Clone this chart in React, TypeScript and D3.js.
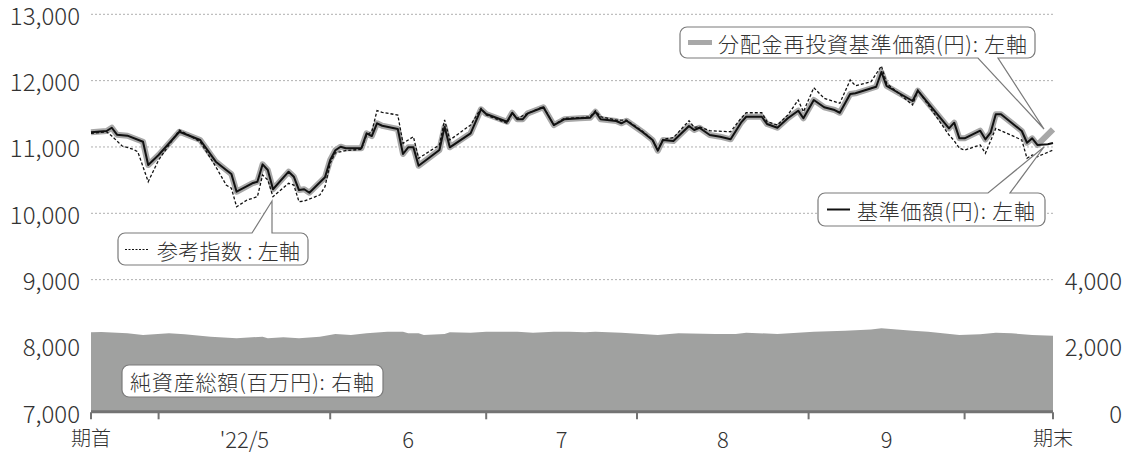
import React from 'react';
import * as d3 from 'd3';

// ---- data (x = business-day position within the period) ----
const monthTickDays = [0, 13, 46, 76, 105, 138, 168, 185];
const xLabels = ['期首', "'22/5", '6', '7', '8', '9', '期末'];
const leftTicks = [7000, 8000, 9000, 10000, 11000, 12000, 13000];
const gridValues = [9000, 10000, 11000, 12000, 13000];
const rightTicks = [0, 2000, 4000];

const navDays = [0, 3, 4, 5, 7, 10, 11, 13, 17, 21, 24, 26, 27, 28, 31, 32, 33, 34, 35, 38, 39, 40, 41, 42, 45, 46, 47, 48, 49, 52, 53, 54, 55, 56, 59, 60, 61, 62, 63, 67, 68, 69, 73, 75, 76, 80, 81, 82, 83, 84, 87, 89, 91, 94, 96, 97, 98, 101, 102, 103, 106, 108, 109, 110, 112, 115, 116, 117, 119, 121, 123, 125, 126, 129, 130, 132, 134, 136, 137, 139, 141, 143, 144, 146, 147, 151, 152, 153, 158, 159, 165, 166, 167, 168, 171, 172, 173, 174, 175, 179, 180, 181, 182, 184, 185];
const navValues = [11221, 11241, 11290, 11185, 11170, 11079, 10728, 10879, 11230, 11105, 10778, 10653, 10592, 10325, 10452, 10476, 10738, 10653, 10362, 10627, 10552, 10351, 10362, 10310, 10543, 10804, 10950, 11004, 10980, 10980, 11206, 11165, 11357, 11320, 11271, 10894, 10995, 10995, 10717, 10954, 11305, 10995, 11206, 11568, 11497, 11381, 11516, 11417, 11417, 11507, 11598, 11331, 11417, 11432, 11441, 11531, 11417, 11391, 11357, 11396, 11230, 11105, 10944, 11105, 11090, 11316, 11256, 11290, 11180, 11155, 11115, 11366, 11456, 11456, 11346, 11290, 11432, 11547, 11432, 11708, 11598, 11557, 11516, 11798, 11809, 11908, 12130, 11919, 11693, 11848, 11281, 11366, 11130, 11130, 11245, 11115, 11215, 11492, 11492, 11241, 11064, 11130, 11030, 11040, 11060];

const reinvestDays = [0, 3, 4, 5, 7, 10, 11, 13, 17, 21, 24, 26, 27, 28, 31, 32, 33, 34, 35, 38, 39, 40, 41, 42, 45, 46, 47, 48, 49, 52, 53, 54, 55, 56, 59, 60, 61, 62, 63, 67, 68, 69, 73, 75, 76, 80, 81, 82, 83, 84, 87, 89, 91, 94, 96, 97, 98, 101, 102, 103, 106, 108, 109, 110, 112, 115, 116, 117, 119, 121, 123, 125, 126, 129, 130, 132, 134, 136, 137, 139, 141, 143, 144, 146, 147, 151, 152, 153, 158, 159, 165, 166, 167, 168, 171, 172, 173, 174, 175, 179, 180, 181, 182, 185];
const reinvestValues = [11221, 11241, 11290, 11185, 11170, 11079, 10728, 10879, 11230, 11105, 10778, 10653, 10592, 10325, 10452, 10476, 10738, 10653, 10362, 10627, 10552, 10351, 10362, 10310, 10543, 10804, 10950, 11004, 10980, 10980, 11206, 11165, 11357, 11320, 11271, 10894, 10995, 10995, 10717, 10954, 11305, 10995, 11206, 11568, 11497, 11381, 11516, 11417, 11417, 11507, 11598, 11331, 11417, 11432, 11441, 11531, 11417, 11391, 11357, 11396, 11230, 11105, 10944, 11105, 11090, 11316, 11256, 11290, 11180, 11155, 11115, 11366, 11456, 11456, 11346, 11290, 11432, 11547, 11432, 11708, 11598, 11557, 11516, 11798, 11809, 11908, 12130, 11919, 11693, 11848, 11281, 11366, 11130, 11130, 11245, 11115, 11215, 11492, 11492, 11241, 11064, 11130, 11030, 11265];

const indexDays = [0, 3, 4, 6, 8, 9, 11, 13, 17, 21, 24, 26, 27, 28, 30, 32, 33, 34, 35, 38, 39, 40, 41, 44, 45, 46, 47, 49, 52, 53, 54, 55, 56, 59, 60, 61, 62, 63, 67, 68, 69, 73, 75, 76, 80, 81, 82, 84, 87, 89, 91, 94, 96, 97, 98, 101, 103, 106, 108, 109, 110, 112, 115, 116, 117, 119, 123, 125, 126, 129, 130, 132, 134, 136, 137, 139, 141, 144, 146, 147, 150, 152, 153, 158, 159, 165, 166, 167, 168, 171, 172, 174, 179, 180, 181, 182, 185];
const indexValues = [11206, 11230, 11165, 11014, 10969, 10928, 10476, 10803, 11256, 11079, 10702, 10426, 10377, 10099, 10200, 10250, 10577, 10502, 10250, 10452, 10426, 10175, 10185, 10276, 10401, 10754, 10913, 10944, 10965, 11180, 11230, 11547, 11522, 11482, 11055, 11105, 11155, 10829, 11030, 11407, 11105, 11331, 11583, 11482, 11357, 11507, 11432, 11507, 11607, 11331, 11432, 11441, 11456, 11547, 11456, 11406, 11406, 11241, 11105, 10954, 11115, 11140, 11396, 11296, 11305, 11245, 11230, 11432, 11516, 11516, 11381, 11331, 11482, 11708, 11531, 11893, 11734, 11658, 12009, 11924, 11984, 12221, 11960, 11633, 11859, 11180, 11094, 10980, 10954, 11030, 10904, 11281, 11105, 10829, 10879, 10853, 10954];

const assetDays = [0, 2, 7, 10, 15, 18, 23, 28, 31, 33, 34, 37, 40, 44, 47, 50, 53, 57, 60, 61, 63, 64, 68, 69, 73, 76, 82, 85, 89, 92, 95, 97, 102, 109, 113, 120, 124, 126, 132, 139, 145, 150, 152, 158, 161, 167, 171, 174, 177, 181, 185];
const assetValues = [2412, 2421, 2382, 2330, 2382, 2352, 2279, 2231, 2261, 2279, 2231, 2261, 2231, 2279, 2360, 2330, 2382, 2430, 2430, 2382, 2382, 2330, 2360, 2412, 2400, 2430, 2430, 2400, 2430, 2430, 2412, 2430, 2400, 2330, 2382, 2360, 2360, 2400, 2360, 2430, 2460, 2496, 2532, 2460, 2430, 2330, 2352, 2400, 2382, 2330, 2309];

const legendReinvest = '分配金再投資基準価額(円): 左軸';
const legendNav = '基準価額(円): 左軸';
const legendIndex = '参考指数 : 左軸';
const legendAssets = '純資産総額(百万円): 右軸';

// ---- layout ----
const W = 1131;
const H = 452;
const X0 = 91;
const X1 = 1053;
const YT = 14.3;
const YB = 412.3;
const FONT = "'Noto Sans CJK JP', 'Noto Sans', sans-serif";
const TEXT = '#333';
const WEIGHT = 300;

type Pt = { d: number; v: number };
const zip = (ds: number[], vs: number[]): Pt[] => ds.map((d, i) => ({ d, v: vs[i] }));

function calloutPath(
  x0: number, y0: number, x1: number, y1: number, r: number,
  ptr?: { side: 'top' | 'bottom'; a: number; b: number; tx: number; ty: number }
) {
  let p = `M${x0 + r},${y0}`;
  if (ptr && ptr.side === 'top') p += ` L${ptr.a},${y0} L${ptr.tx},${ptr.ty} L${ptr.b},${y0}`;
  p += ` L${x1 - r},${y0} A${r},${r} 0 0 1 ${x1},${y0 + r}`;
  p += ` L${x1},${y1 - r} A${r},${r} 0 0 1 ${x1 - r},${y1}`;
  if (ptr && ptr.side === 'bottom') p += ` L${ptr.b},${y1} L${ptr.tx},${ptr.ty} L${ptr.a},${y1}`;
  p += ` L${x0 + r},${y1} A${r},${r} 0 0 1 ${x0},${y1 - r}`;
  p += ` L${x0},${y0 + r} A${r},${r} 0 0 1 ${x0 + r},${y0} Z`;
  return p;
}

export default function App() {
  const x = d3.scaleLinear().domain([0, 185]).range([X0, X1]);
  const yL = d3.scaleLinear().domain([7000, 13000]).range([YB, YT]);
  const yR = d3.scaleLinear().domain([0, 12000]).range([YB, YT]);

  const lineL = d3.line<Pt>().x((p) => x(p.d)).y((p) => yL(p.v));
  const area = d3
    .area<Pt>()
    .x((p) => x(p.d))
    .y0(yR(0))
    .y1((p) => yR(p.v));

  const nav = zip(navDays, navValues);
  const reinvest = zip(reinvestDays, reinvestValues);
  const idx = zip(indexDays, indexValues);
  const assets = zip(assetDays, assetValues);

  const labelPos = xLabels.map((_, i) => {
    if (i === 0) return monthTickDays[0];
    if (i === xLabels.length - 1) return monthTickDays[monthTickDays.length - 1];
    return (monthTickDays[i] + monthTickDays[i + 1]) / 2;
  });

  const legendText = {
    fontFamily: FONT,
    fontSize: 21,
    fontWeight: WEIGHT,
    fill: TEXT,
  } as const;

  return (
    <svg
      width={W}
      height={H}
      viewBox={`0 0 ${W} ${H}`}
      style={{ position: 'absolute', left: 0, top: 0, display: 'block', background: '#fff' }}
    >
      {/* grid */}
      {gridValues.map((g) => (
        <line
          key={g}
          x1={X0}
          x2={X1}
          y1={yL(g)}
          y2={yL(g)}
          stroke="#b0b0b0"
          strokeWidth={1}
          strokeDasharray="2,2"
        />
      ))}

      {/* net assets area */}
      <path d={area(assets) || ''} fill="#a0a1a0" />

      {/* x axis */}
      <line x1={X0} x2={X1} y1={YB - 0.5} y2={YB - 0.5} stroke="#737373" strokeWidth={3} />
      {monthTickDays.map((d) => (
        <line key={d} x1={x(d)} x2={x(d)} y1={YB} y2={YB + 7} stroke="#737373" strokeWidth={2} />
      ))}
      {xLabels.map((t, i) => (
        <text
          key={t}
          x={x(labelPos[i])}
          y={437.5}
          textAnchor="middle"
          dominantBaseline="central"
          fontFamily={FONT}
          fontWeight={WEIGHT}
          fontSize={/\d/.test(t) ? 22 : 20}
          fill={TEXT}
        >
          {t}
        </text>
      ))}

      {/* left axis labels */}
      {leftTicks.map((v) => (
        <text
          key={v}
          x={80}
          y={yL(v)}
          textAnchor="end"
          dominantBaseline="central"
          fontFamily={FONT}
          fontWeight={WEIGHT}
          fontSize={24}
          fill={TEXT}
        >
          {d3.format(',')(v)}
        </text>
      ))}
      {/* right axis labels */}
      {rightTicks.map((v) => (
        <text
          key={v}
          x={1122}
          y={yR(v)}
          textAnchor="end"
          dominantBaseline="central"
          fontFamily={FONT}
          fontWeight={WEIGHT}
          fontSize={24}
          fill={TEXT}
        >
          {d3.format(',')(v)}
        </text>
      ))}

      {/* lines */}
      <path d={lineL(reinvest) || ''} fill="none" stroke="#a8a8a8" strokeWidth={6} strokeLinejoin="round" />
      <path d={lineL(idx) || ''} fill="none" stroke="#111" strokeWidth={1.3} strokeDasharray="3,2" />
      <path d={lineL(nav) || ''} fill="none" stroke="#111" strokeWidth={2} strokeLinejoin="round" />

      {/* callout: reinvested NAV */}
      <path
        d={calloutPath(680, 27, 1035, 58, 7, { side: 'bottom', a: 978, b: 998, tx: 1044, ty: 129 })}
        fill="#fff"
        stroke="#7a7a7a"
        strokeWidth={1.2}
      />
      <line x1={688} x2={712} y1={42.5} y2={42.5} stroke="#a8a8a8" strokeWidth={5} />
      <text x={718} y={42.5} dominantBaseline="central" textLength={309} lengthAdjust="spacing" {...legendText}>
        {legendReinvest}
      </text>

      {/* callout: NAV */}
      <path
        d={calloutPath(818, 193, 1045, 226, 7, { side: 'top', a: 988, b: 1010, tx: 1044, ty: 147 })}
        fill="#fff"
        stroke="#7a7a7a"
        strokeWidth={1.2}
      />
      <line x1={827} x2={850} y1={209.5} y2={209.5} stroke="#111" strokeWidth={2} />
      <text x={857} y={209.5} dominantBaseline="central" textLength={178} lengthAdjust="spacing" {...legendText}>
        {legendNav}
      </text>

      {/* callout: reference index */}
      <path
        d={calloutPath(118, 233, 308, 265, 7, { side: 'top', a: 252, b: 272, tx: 272, ty: 201 })}
        fill="#fff"
        stroke="#7a7a7a"
        strokeWidth={1.2}
      />
      <line x1={125} x2={149} y1={249.5} y2={249.5} stroke="#111" strokeWidth={1.2} strokeDasharray="2,1.5" />
      <text x={157} y={249.5} dominantBaseline="central" textLength={143} lengthAdjust="spacing" {...legendText}>
        {legendIndex}
      </text>

      {/* label: net assets */}
      <path d={calloutPath(122, 365, 383, 397, 7)} fill="#fff" stroke="#7a7a7a" strokeWidth={1.2} />
      <text x={130} y={381} dominantBaseline="central" textLength={244} lengthAdjust="spacing" {...legendText}>
        {legendAssets}
      </text>
    </svg>
  );
}
